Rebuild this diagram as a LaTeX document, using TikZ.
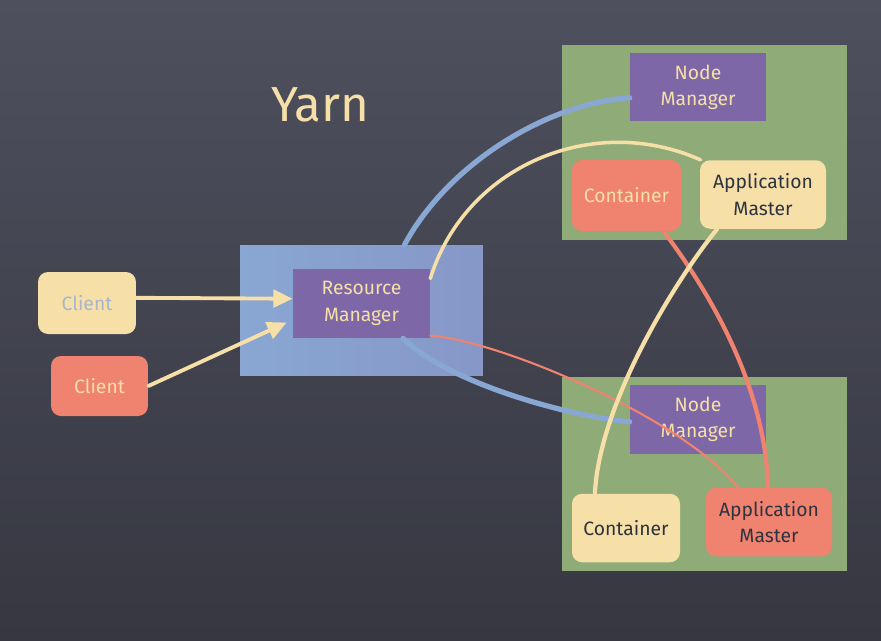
\documentclass[tikz,border=0pt]{standalone}
\usepackage{fontspec}
\setmainfont{Fira Sans}
\usepackage{tikz}
\usetikzlibrary
  {
    arrows.meta,              % triangle tips
    calc,                     % shifted anchors
  }

\definecolor{boardtop}{HTML}{4E505E}
\definecolor{boardbottom}{HTML}{363741}
\definecolor{chalkcream}{HTML}{F6E0A8}
\definecolor{chalkred}{HTML}{F08270}
\definecolor{chalkpurple}{HTML}{7E67A7}
\definecolor{chalkgreen}{HTML}{8FAB78}
\definecolor{chalkblue}{HTML}{89A7D3}
\definecolor{chalkgrey}{HTML}{A7B6CC}
\definecolor{chalkink}{HTML}{2E3340}

\begin{document}
\begin{tikzpicture}
    [
      x=0.02cm, y=-0.02cm,
      every node/.style=
        {
          inner sep=0pt,
          align=center,
          font=\fontsize{11}{15}\selectfont,
        },
      host/.style=
        {
          rectangle,
          fill=chalkgreen,
          minimum width=5.7cm,
          minimum height=3.9cm,
        },
      manager/.style=
        {
          rectangle,
          fill=chalkpurple,
          text=chalkcream,
          minimum width=2.72cm,
          minimum height=1.37cm,
        },
      redslot/.style=
        {
          rectangle,
          rounded corners=0.2cm,
          fill=chalkred,
          minimum height=1.37cm,
        },
      creamslot/.style=
        {
          rectangle,
          rounded corners=0.2cm,
          fill=chalkcream,
          minimum height=1.37cm,
        },
      chalk/.style=
        {
          line cap=round,
          line width=2.4pt,
        },
      tip/.style=
        {
          -{Triangle[length=11pt, width=10pt]},
        }
    ]
    \path [use as bounding box, top color=boardtop, bottom color=boardbottom]
      (0,0) rectangle (881,640);

    \node (title) [text=chalkcream, font=\fontsize{28}{32}\selectfont] at (320,105) {Yarn};

    % resource manager side
    \node (rmbox) [rectangle, left color=chalkblue, right color=chalkblue!75!chalkpurple,
                   minimum width=4.86cm, minimum height=2.62cm] at (361.5,310.5) {};
    \node (rm) [manager, minimum width=2.74cm, minimum height=1.38cm] at (361.5,303.5) {Resource\\Manager};
    \coordinate (rmtop) at ($(rmbox.north)+(43,0)$);

    \node (client1) [creamslot, text=chalkgrey, minimum width=1.96cm, minimum height=1.24cm] at (87,303) {Client};
    \node (client2) [redslot, text=chalkcream, minimum width=1.94cm, minimum height=1.2cm] at (99.5,386) {Client};

    % first host
    \node (host1) [host] at (704.5,142.5) {};
    \node (nm1) [manager] at (698,87) {Node\\Manager};
    \node (c1) [redslot, text=chalkcream, minimum width=2.18cm, minimum height=1.42cm] at (626.5,195.5) {Container};
    \node (am1) [creamslot, text=chalkink, minimum width=2.52cm] at (763,194.5) {Application\\Master};

    % second host
    \node (host2) [host] at (704.5,474) {};
    \node (nm2) [manager] at (698,419.5) {Node\\Manager};
    \node (c2) [creamslot, text=chalkink, minimum width=2.16cm] at (626,528) {Container};
    \node (am2) [redslot, text=chalkink, minimum width=2.52cm] at (769,522) {Application\\Master};

    % connectors
    \draw [chalk, tip, chalkcream, line width=2.2pt] (client1.6) -- (rm.176);
    \draw [chalk, tip, chalkcream, line width=2.2pt] (client2.east) -- ($(rm.west)+(-6,19)$);

    \draw [chalk, chalkblue, line width=3pt] (rmtop) .. controls +(45,-83) and +(-80,5) .. (nm1.189);
    \draw [chalk, chalkcream, line width=2pt] (rm.20) .. controls +(35,-113) and +(-107,-48) .. (am1.151);
    \draw [chalk, chalkblue, line width=3pt] (rm.-40) .. controls +(42,42) and +(-70,-7) .. (nm2.182);
    \draw [chalk, chalkred, line width=1.2pt] (rm.-25) .. controls +(70,5) and +(-53,-68) .. (am2.132);
    \draw [chalk, chalkred] (c1.-44) .. controls +(37,49) and +(-2,-108) .. (am2.92);
    \draw [chalk, chalkcream] (am1.-143) .. controls +(-37,45) and +(5,-94) .. (c2.132);
  \end{tikzpicture}
\end{document}
